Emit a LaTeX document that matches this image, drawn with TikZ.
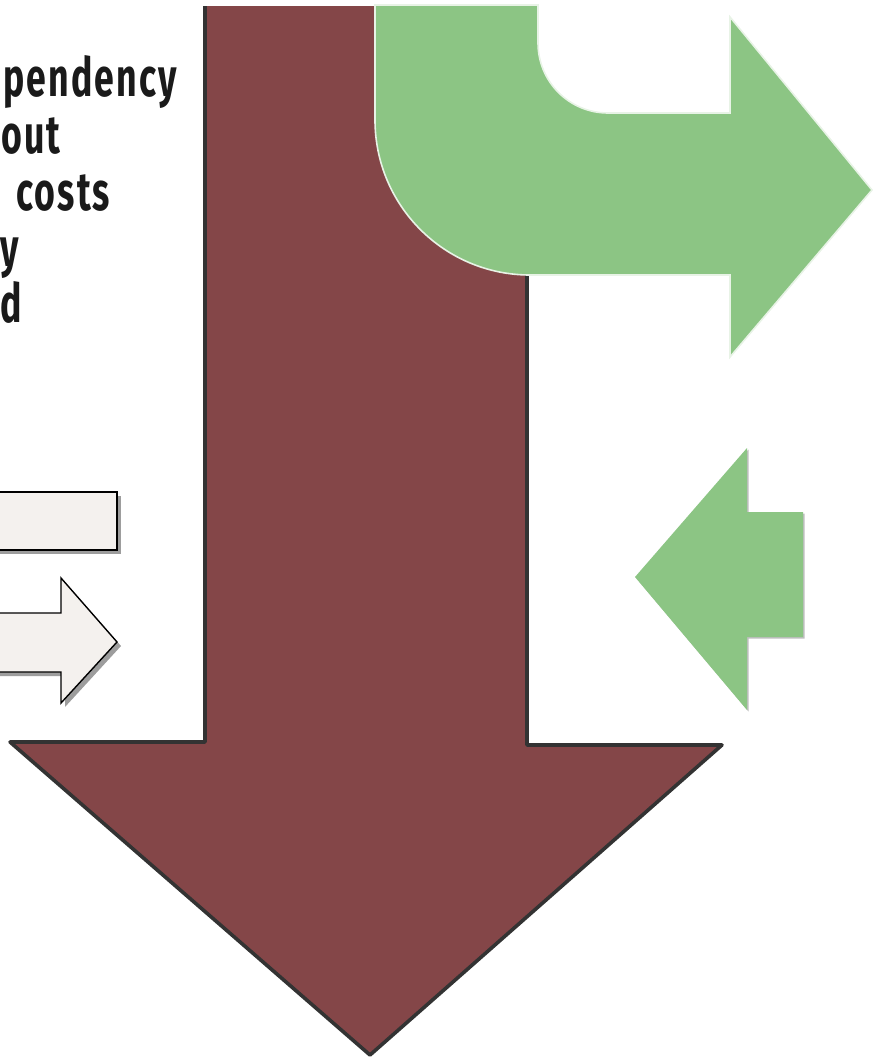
\documentclass[tikz,border=0pt]{standalone}
\usepackage{fontspec}
\newfontfamily\condfont[FakeStretch=0.66, LetterSpace=4]{Fira Sans Bold}
\usetikzlibrary{shadows}
\definecolor{ink}{HTML}{1A1A1A}
\definecolor{maroon}{HTML}{844648}
\definecolor{edge}{HTML}{333333}
\definecolor{leaf}{HTML}{8CC584}
\definecolor{paper}{HTML}{F4F1EE}
\tikzset{
  frag/.style={anchor=base west, inner sep=0pt, text=ink, font=\condfont\fontsize{54}{54}\selectfont},
  downarrow/.style={fill=maroon},
  sketch/.style={draw=edge, line width=3.6pt, line join=round},
  turnarrow/.style={fill=leaf, draw=white!80!leaf, line width=1.6pt},
  backarrow/.style={fill=leaf, drop shadow={shadow xshift=1.5pt, shadow yshift=-1.5pt, fill=black, opacity=0.25}},
  plate/.style={fill=paper, draw=black, line width=1.4pt, drop shadow={shadow xshift=4pt, shadow yshift=-4pt, fill=black!70, opacity=0.55}}
}
\begin{document}
\begin{tikzpicture}[x=1pt, y=-1pt]
  \useasboundingbox (0,0) rectangle (874,1060);

  % text fragments along the left border
  \node[frag] (l1) at (3,96) {pendency};
  \node[frag] (l2) at (1,153) {out};
  \node[frag] (l3) at (16,210) {costs};
  \node[frag] (l4) at (0,266) {y};
  \node[frag] (l5) at (0,322) {d};

  % gray plate and arrow
  \path[plate] (-10,492) rectangle (117,550);
  \path[plate] (-10,613) -- (61,613) -- (61,578) -- (117,642) -- (61,703) -- (61,672) -- (-10,672) -- cycle;

  % big down arrow
  \fill[downarrow] (205,6) -- (205,742) -- (10,742) -- (370,1055) -- (722,745) -- (527,745) -- (527,6) -- cycle;
  \draw[sketch] (205,6) -- (205,742) -- (10,742) -- (370,1055) -- (722,745) -- (527,745) -- (527,6);

  % bent green arrow
  \path[turnarrow] (375,5) -- (375,120) .. controls (375,205.6) and (444.4,275) .. (530,275)
    -- (730,275) -- (730,357) -- (872,190) -- (730,17) -- (730,113) -- (608,113)
    .. controls (569.3,113) and (538,81.7) .. (538,43) -- (538,5) -- cycle;

  % small green arrow
  \path[backarrow] (635,577) -- (747,448) -- (747,512) -- (803,512) -- (803,637) -- (747,637) -- (747,710) -- cycle;
\end{tikzpicture}
\end{document}
